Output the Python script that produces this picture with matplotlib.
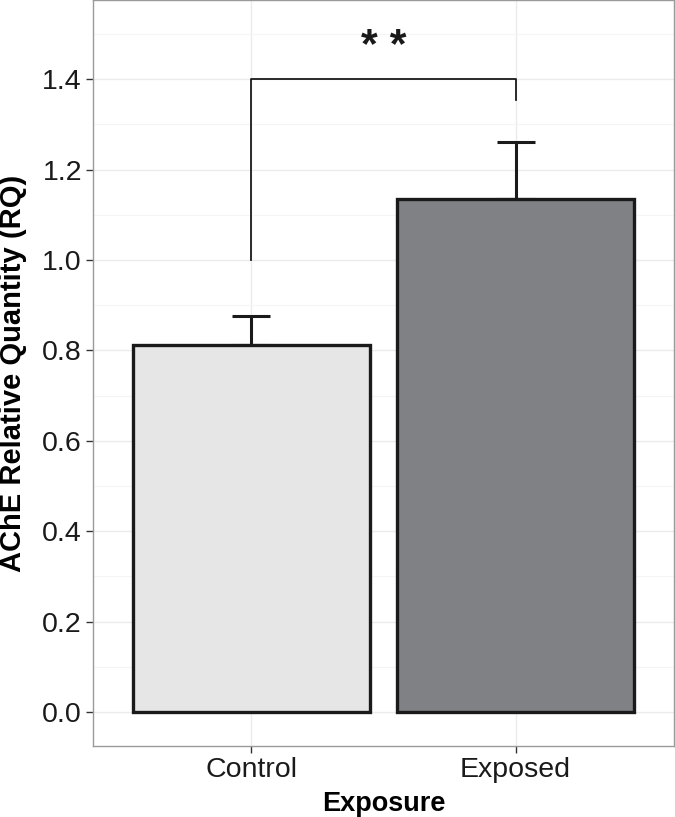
import matplotlib.pyplot as plt
from matplotlib.ticker import MultipleLocator

plt.rcParams['font.family'] = ['Liberation Sans', 'DejaVu Sans']

groups = ['Control', 'Exposed']
means = [0.812, 1.135]
errors = [0.063, 0.125]
colors = ['#e6e6e6', '#808184']

fig = plt.figure(figsize=(6.75, 8.17), dpi=100)
ax = fig.add_axes([93/675, 71/817, 581/675, 746/817])

x = [1, 2]
ax.errorbar(x, means, yerr=[[0, 0], errors], fmt='none', ecolor='#1a1a1a',
            elinewidth=2.2, capsize=14, capthick=2.2, zorder=2)
ax.bar(x, means, width=0.9, color=colors, edgecolor='#1a1a1a', linewidth=2.4, zorder=3)

# significance bracket
ax.plot([1, 1, 2, 2], [1.0, 1.4, 1.4, 1.354], color='#1a1a1a', lw=1.3, zorder=4)
ax.text(1.5, 1.472, '* *', ha='center', va='center', fontsize=31, fontweight='bold', color='#1a1a1a')

ax.set_xlim(0.4, 2.6)
ax.set_ylim(-0.075, 1.575)
ax.set_xticks(x)
ax.set_xticklabels(groups)
ax.yaxis.set_major_locator(MultipleLocator(0.2))
ax.yaxis.set_minor_locator(MultipleLocator(0.1))
ax.set_yticklabels(['%.1f' % v for v in ax.get_yticks()])

ax.grid(which='major', color='#ebebeb', lw=1.0, zorder=0)
ax.grid(which='minor', axis='y', color='#f5f5f5', lw=0.8, zorder=0)
ax.set_axisbelow(True)
for s in ax.spines.values():
    s.set_color('#9a9a9a')
    s.set_linewidth(1.0)

ax.tick_params(axis='both', which='major', labelsize=20.5, length=5, width=1.0,
               color='#333333', labelcolor='#1a1a1a', pad=3)
ax.tick_params(axis='y', which='minor', length=0)

ax.set_xlabel('Exposure', fontsize=19.5, fontweight='bold', labelpad=6)
ax.set_ylabel('AChE Relative Quantity (RQ)', fontsize=21, fontweight='bold')
ax.yaxis.set_label_coords(-0.114, 0.5)

fig.savefig('out.png', dpi=100)
